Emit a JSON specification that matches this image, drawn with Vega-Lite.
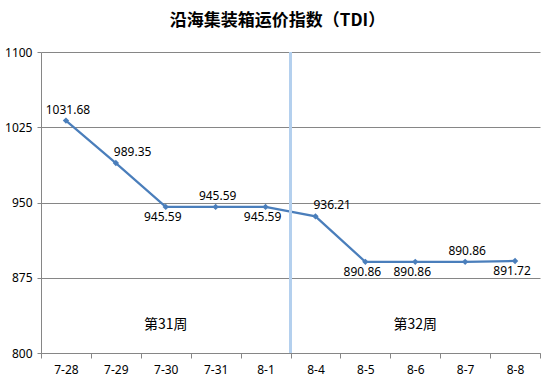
{
  "$schema": "https://vega.github.io/schema/vega-lite/v6.json",
  "width": 499,
  "height": 301,
  "autosize": {"type": "none"},
  "padding": {"left": 41, "top": 52, "right": 14, "bottom": 36},
  "background": "white",
  "title": {
    "text": "沿海集装箱运价指数（TDI）",
    "font": "Noto Sans CJK SC",
    "fontSize": 17,
    "fontWeight": "bold",
    "color": "#000000",
    "anchor": "middle",
    "dx": -13,
    "offset": 16
  },
  "datasets": {
    "tdi": [
      {"date": "7-28", "value": 1031.68},
      {"date": "7-29", "value": 989.35},
      {"date": "7-30", "value": 945.59},
      {"date": "7-31", "value": 945.59},
      {"date": "8-1", "value": 945.59},
      {"date": "8-4", "value": 936.21},
      {"date": "8-5", "value": 890.86},
      {"date": "8-6", "value": 890.86},
      {"date": "8-7", "value": 890.86},
      {"date": "8-8", "value": 891.72}
    ],
    "weeks": [
      {"date": "7-30", "value": 828, "label": "第31周"},
      {"date": "8-6", "value": 828, "label": "第32周"}
    ]
  },
  "layer": [
    {
      "data": {"name": "tdi"},
      "mark": {"type": "line", "color": "#4A7EBB", "strokeWidth": 2.25},
      "encoding": {
        "x": {
          "field": "date",
          "type": "ordinal",
          "sort": null,
          "scale": {"type": "band", "paddingInner": 0, "paddingOuter": 0, "domain": ["7-28", "7-29", "7-30", "7-31", "8-1", "8-4", "8-5", "8-6", "8-7", "8-8"]}
        },
        "y": {
          "field": "value",
          "type": "quantitative",
          "scale": {"domain": [800, 1100], "nice": false, "zero": false},
          "axis": {"values": [800, 875, 950, 1025, 1100], "format": "d"}
        }
      }
    },
    {
      "data": {"name": "tdi"},
      "mark": {"type": "rule", "color": "#B4D0EE", "strokeWidth": 2},
      "encoding": {
        "x": {"datum": "8-4", "type": "ordinal", "bandPosition": 0}
      }
    },
    {
      "data": {"name": "tdi"},
      "mark": {"type": "point", "shape": "diamond", "filled": true, "color": "#4A7EBB", "size": 40, "opacity": 1},
      "encoding": {
        "x": {"field": "date", "type": "ordinal", "sort": null},
        "y": {"field": "value", "type": "quantitative"}
      }
    },
    {
      "data": {"name": "tdi"},
      "transform": [{"filter": {"field": "date", "oneOf": ["7-28", "7-31", "8-7"]}}],
      "mark": {"type": "text", "font": "Noto Sans", "fontSize": 12, "color": "#000000", "baseline": "middle", "align": "center", "dy": -11, "dx": 2},
      "encoding": {
        "x": {"field": "date", "type": "ordinal", "sort": null},
        "y": {"field": "value", "type": "quantitative"},
        "text": {"field": "value", "type": "quantitative", "format": ".2f"}
      }
    },
    {
      "data": {"name": "tdi"},
      "transform": [{"filter": {"field": "date", "oneOf": ["7-29", "8-4"]}}],
      "mark": {"type": "text", "font": "Noto Sans", "fontSize": 12, "color": "#000000", "baseline": "middle", "align": "left", "dy": -11, "dx": -2},
      "encoding": {
        "x": {"field": "date", "type": "ordinal", "sort": null},
        "y": {"field": "value", "type": "quantitative"},
        "text": {"field": "value", "type": "quantitative", "format": ".2f"}
      }
    },
    {
      "data": {"name": "tdi"},
      "transform": [{"filter": {"field": "date", "oneOf": ["7-30", "8-1", "8-5", "8-6", "8-8"]}}],
      "mark": {"type": "text", "font": "Noto Sans", "fontSize": 12, "color": "#000000", "baseline": "middle", "align": "center", "dy": 10, "dx": -3},
      "encoding": {
        "x": {"field": "date", "type": "ordinal", "sort": null},
        "y": {"field": "value", "type": "quantitative"},
        "text": {"field": "value", "type": "quantitative", "format": ".2f"}
      }
    },
    {
      "data": {"name": "weeks"},
      "mark": {"type": "text", "font": "Noto Sans CJK SC", "fontSize": 14, "color": "#000000", "baseline": "middle", "align": "center"},
      "encoding": {
        "x": {"field": "date", "type": "ordinal", "sort": null},
        "y": {"field": "value", "type": "quantitative"},
        "text": {"field": "label"}
      }
    }
  ],
  "config": {
    "view": {"stroke": null},
    "axisX": {
      "title": null,
      "labelAngle": 0,
      "tickBand": "extent",
      "grid": false,
      "domainColor": "#868686",
      "tickColor": "#868686",
      "tickSize": 5,
      "labelPadding": 6,
      "labelFont": "Noto Sans",
      "labelFontSize": 12,
      "labelColor": "#000000"
    },
    "axisY": {
      "title": null,
      "grid": true,
      "gridColor": "#868686",
      "gridOpacity": 1,
      "domainColor": "#868686",
      "tickColor": "#868686",
      "tickSize": 4,
      "labelPadding": 5,
      "labelFont": "Noto Sans",
      "labelFontSize": 12,
      "labelColor": "#000000"
    }
  }
}
